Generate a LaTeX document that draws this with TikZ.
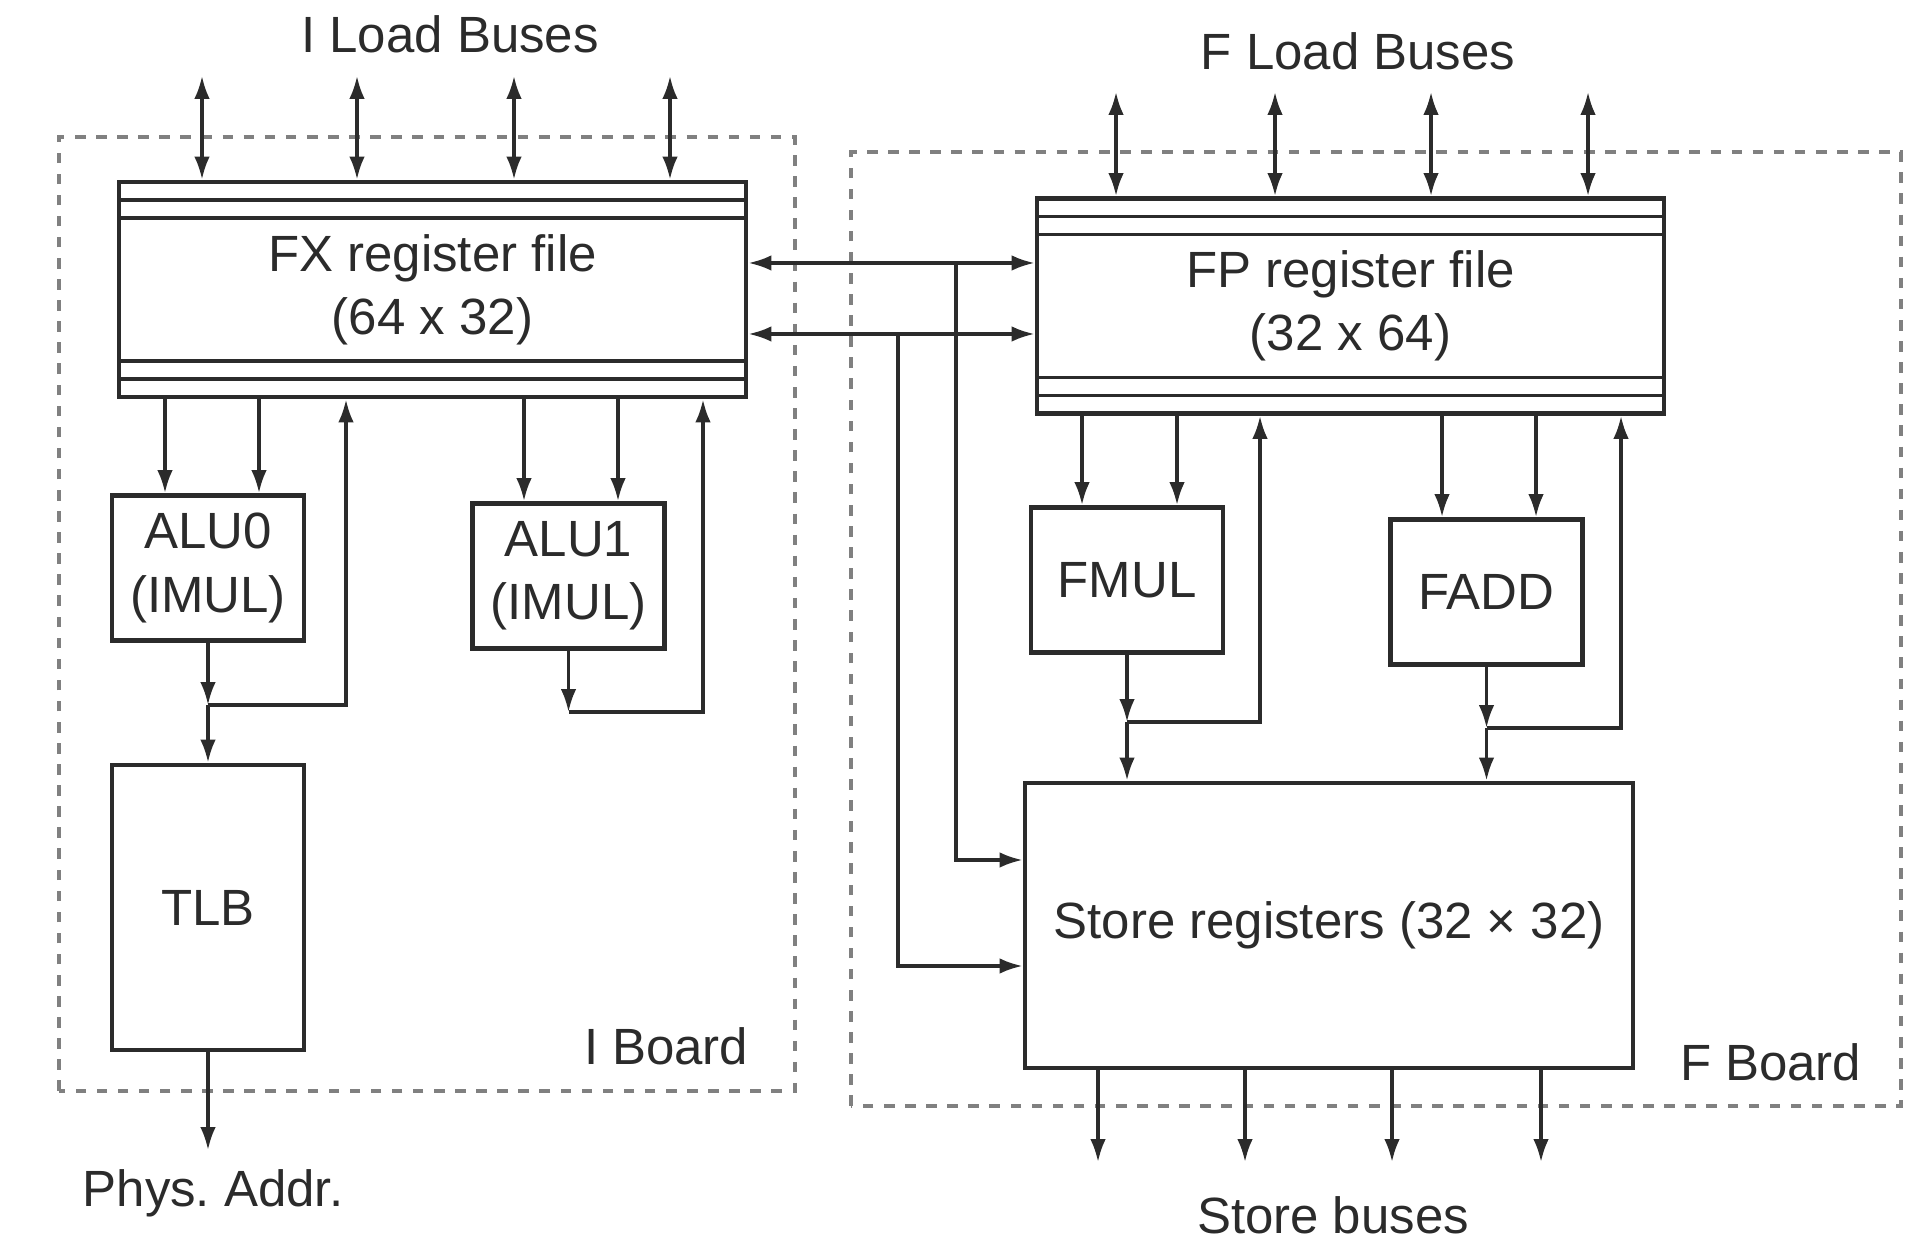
\documentclass[tikz,border=0pt]{standalone}
\usepackage{fontspec}
\setsansfont{Liberation Sans}
\usepackage{xcolor}
\usetikzlibrary{arrows.meta,calc}
\definecolor{inkGray}{HTML}{2B2B2B}
\definecolor{boardGray}{HTML}{808080}
\tikzset{
  font=\sffamily\fontsize{14.5}{18}\selectfont,
  arrow/.style={-{Latex[length=6.5pt,width=4.4pt]}, draw=inkGray, line width=0.9pt},
  busarrow/.style={{Latex[length=6.5pt,width=4.4pt]}-{Latex[length=6.5pt,width=4.4pt]}, draw=inkGray, line width=0.9pt},
  board/.style={draw=boardGray, dash pattern=on 3pt off 3pt, line width=0.9pt},
  unit/.style={rectangle, draw=inkGray, line width=1.4pt, fill=white, minimum width=1.92cm, minimum height=1.45cm, align=center, inner sep=2pt, text=inkGray},
  regfile/.style={unit, minimum width=6.27cm, minimum height=2.15cm,
    path picture={
      \foreach \d in {0.18,0.36} {
        \draw[inkGray, line width=1pt] ([yshift=-\d cm]path picture bounding box.north west) -- ([yshift=-\d cm]path picture bounding box.north east);
        \draw[inkGray, line width=1pt] ([yshift=\d cm]path picture bounding box.south west) -- ([yshift=\d cm]path picture bounding box.south east);
      }
    }},
  busLabel/.style={text=inkGray},
  boardLabel/.style={text=inkGray, anchor=east, inner sep=0pt}
}

\begin{document}
\begin{tikzpicture}[x=1cm,y=1cm]
\useasboundingbox (0,0) rectangle (19.18,12.39);

% --------------------------------------------------------------------------
% Boards
% --------------------------------------------------------------------------
\draw[board] (0.59,1.48) rectangle (7.95,11.02);
\draw[board] (8.51,1.33) rectangle (19.01,10.87);
\node[boardLabel] (iBoardLbl) at (7.49,1.93) {I Board};
\node[boardLabel] (fBoardLbl) at (18.62,1.77) {F Board};

% --------------------------------------------------------------------------
% I Board
% --------------------------------------------------------------------------
\node[busLabel] (iLoad) at (4.50,12.05) {I Load Buses};
\node[regfile] (fx) at (4.325,9.495) {FX register file\\(64 x 32)};
\node[unit] (alu0) at (2.08,6.71) {ALU0\\(IMUL)};
\node[unit] (alu1) at (5.685,6.63) {ALU1\\(IMUL)};
\node[unit, minimum height=2.85cm] (tlb) at (2.08,3.315) {TLB};
\node[busLabel] (physAddr) at (2.13,0.46) {Phys.\ Addr.};

\foreach \x [count=\i] in {2.02,3.57,5.14,6.70} {
  \coordinate (iBus\i) at (\x,11.63);
  \draw[busarrow] (iBus\i) -- (iBus\i |- fx.north);
}
\foreach \x [count=\i] in {1.65,2.59} {
  \coordinate (aluZeroIn\i) at (\x,0);
  \draw[arrow] (fx.south -| aluZeroIn\i) -- (alu0.north -| aluZeroIn\i);
}
\foreach \x [count=\i] in {5.24,6.18} {
  \coordinate (aluOneIn\i) at (\x,0);
  \draw[arrow] (fx.south -| aluOneIn\i) -- (alu1.north -| aluOneIn\i);
}

\coordinate (aluZeroJoin) at (2.08,5.34);
\coordinate (aluZeroBack) at (3.46,5.34);
\draw[arrow] (alu0.south) -- (aluZeroJoin);
\draw[arrow] (aluZeroJoin) -- (tlb.north);
\draw[arrow] (aluZeroJoin) -- (aluZeroBack) -- (aluZeroBack |- fx.south);

\coordinate (aluOneTurn) at (5.685,5.27);
\coordinate (aluOneBack) at (7.03,5.27);
\draw[arrow] (alu1.south) -- (aluOneTurn);
\draw[arrow] (aluOneTurn) -- (aluOneBack) -- (aluOneBack |- fx.south);

\coordinate (physOut) at (2.08,0.89);
\draw[arrow] (tlb.south) -- (physOut);

% --------------------------------------------------------------------------
% F Board
% --------------------------------------------------------------------------
\node[busLabel] (fLoad) at (13.58,11.88) {F Load Buses};
\node[regfile] (fp) at (13.505,9.33) {FP register file\\(32 x 64)};
\node[unit] (fmul) at (11.27,6.59) {FMUL};
\node[unit] (fadd) at (14.865,6.47) {FADD};
\node[unit, minimum width=6.08cm, minimum height=2.85cm] (store) at (13.29,3.135) {Store registers (32 × 32)};
\node[busLabel] (storeBus) at (13.33,0.24) {Store buses};

\foreach \x [count=\i] in {11.16,12.75,14.31,15.88} {
  \coordinate (fBus\i) at (\x,11.47);
  \draw[busarrow] (fBus\i) -- (fBus\i |- fp.north);
}
\foreach \x [count=\i] in {10.82,11.77} {
  \coordinate (fmulIn\i) at (\x,0);
  \draw[arrow] (fp.south -| fmulIn\i) -- (fmul.north -| fmulIn\i);
}
\foreach \x [count=\i] in {14.42,15.36} {
  \coordinate (faddIn\i) at (\x,0);
  \draw[arrow] (fp.south -| faddIn\i) -- (fadd.north -| faddIn\i);
}

\coordinate (fmulJoin) at (11.27,5.17);
\coordinate (fmulBack) at (12.60,5.17);
\draw[arrow] (fmul.south) -- (fmulJoin);
\draw[arrow] (fmulJoin) -- (store.north -| fmulJoin);
\draw[arrow] (fmulJoin) -- (fmulBack) -- (fmulBack |- fp.south);

\coordinate (faddJoin) at (14.865,5.11);
\coordinate (faddBack) at (16.21,5.11);
\draw[arrow] (fadd.south) -- (faddJoin);
\draw[arrow] (faddJoin) -- (store.north -| faddJoin);
\draw[arrow] (faddJoin) -- (faddBack) -- (faddBack |- fp.south);

\foreach \x [count=\i] in {10.98,12.45,13.92,15.41} {
  \coordinate (storeOut\i) at (\x,0.77);
  \draw[arrow] (store.south -| storeOut\i) -- (storeOut\i);
}

% --------------------------------------------------------------------------
% Links between boards
% --------------------------------------------------------------------------
\coordinate (linkHi) at (9.56,9.76);
\coordinate (linkLo) at (8.98,9.05);
\draw[busarrow] (fx.east |- linkHi) -- (fp.west |- linkHi);
\draw[busarrow] (fx.east |- linkLo) -- (fp.west |- linkLo);
\draw[arrow] (linkHi) |- ([yshift=0.655cm]store.west);
\draw[arrow] (linkLo) |- ([yshift=-0.405cm]store.west);

\end{tikzpicture}
\end{document}
